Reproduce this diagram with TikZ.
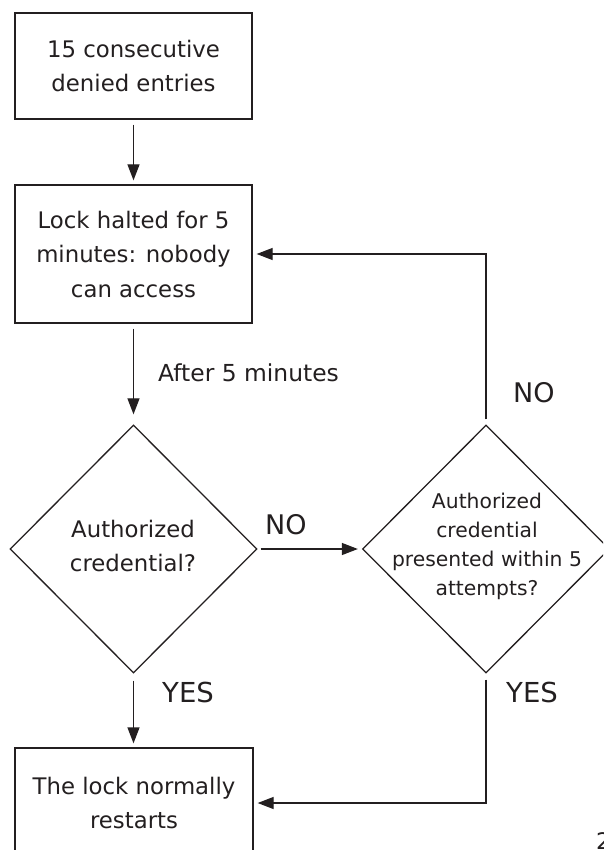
\documentclass[tikz,border=0pt]{standalone}
\usepackage{fontspec}
\setmainfont{DejaVu Sans}
\usetikzlibrary{arrows.meta,shapes.geometric}
\definecolor{ink}{HTML}{231F20}
\begin{document}
\begin{tikzpicture}[x=1pt,y=-1pt,
  every node/.style={text=ink},
  box/.style={draw=ink, line width=1.3pt, rectangle, minimum width=237pt, align=center, inner sep=0pt,
    font=\fontsize{22.8}{34.5}\selectfont},
  dia/.style={draw=ink, line width=1.3pt, diamond, minimum width=247pt, minimum height=248pt, inner sep=0pt},
  lbl/.style={inner sep=0pt, anchor=base west},
  arr/.style={draw=ink, line width=1.3pt, -{Triangle[length=16pt,width=12pt]}, shorten <=5pt, shorten >=4pt}]
\clip (0,0) rectangle (603,850);
\node[box, minimum height=106pt] (b1) at (133.5,66) {15 consecutive\\denied entries};
\node[box, minimum height=138pt] (b2) at (133.5,254) {Lock halted for 5\\minutes: nobody\\can access};
\node[box, minimum width=238pt, minimum height=110pt] (b3) at (134,803) {The lock normally\\restarts};
\node[dia] (d1) at (133.5,549) {};
\node[dia] (d2) at (486,549) {};
\node[align=center, inner sep=0pt, font=\fontsize{22.8}{34}\selectfont] (t1) at (133,546) {Authorized\\credential?};
\node[align=center, inner sep=0pt, font=\fontsize{20.3}{29}\selectfont] (t2) at (487,546) {Authorized\\credential\\presented within 5\\attempts?};
\node[lbl, font=\fontsize{23.4}{28}\selectfont] (l1) at (158,381) {After 5 minutes};
\node[lbl, font=\fontsize{27}{34}\selectfont] (l2) at (265,534) {NO};
\node[lbl, font=\fontsize{27}{34}\selectfont] (l3) at (513,402) {NO};
\node[lbl, font=\fontsize{27.5}{34}\selectfont] (l4) at (162,702) {YES};
\node[lbl, font=\fontsize{27.5}{34}\selectfont] (l5) at (506,702) {YES};
\node[anchor=north west, inner sep=0pt, font=\fontsize{22.8}{28}\selectfont] (pg) at (596,832) {2};
\draw[arr] (b1) -- (b2);
\draw[arr, shorten >=10pt] (b2) -- (d1);
\draw[arr, shorten <=3pt] (d1.east) -- (d2.west);
\draw[arr] (d2.north) |- (b2.east);
\draw[arr, shorten <=7pt] (d1.south) -- (d1.south |- b3.north);
\draw[arr, shorten <=6pt] (d2.south) |- (b3.east);
\end{tikzpicture}
\end{document}
